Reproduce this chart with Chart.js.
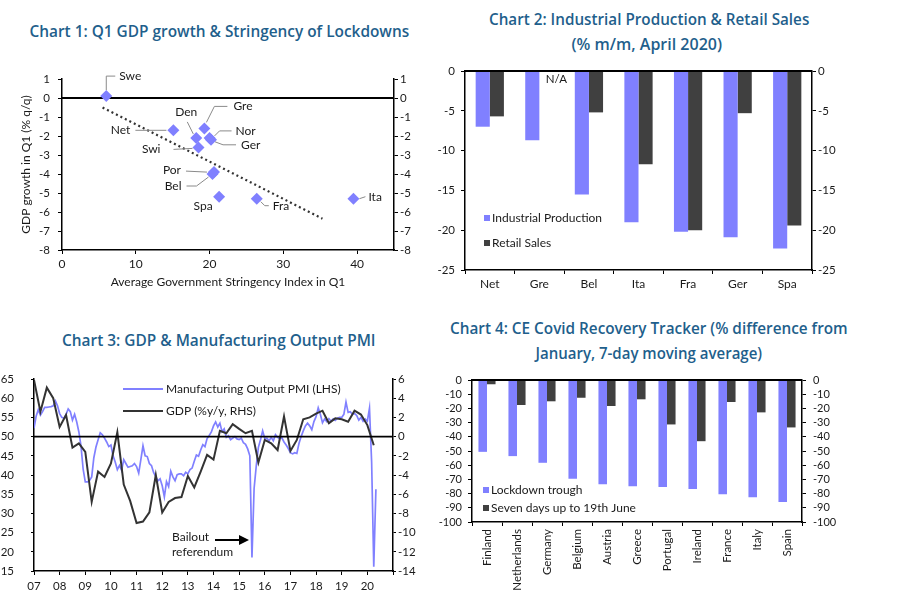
<!DOCTYPE html>
<html><head><meta charset="utf-8"><title>Greece charts</title>
<script src="https://cdn.jsdelivr.net/npm/chart.js@4.4.1/dist/chart.umd.min.js"></script>
<style>
html,body{margin:0;padding:0;background:#fff;}
body{width:901px;height:603px;position:relative;overflow:hidden;}
canvas{position:absolute;}
.t{position:absolute;white-space:nowrap;color:#1f5f8c;font-family:"Open Sans",sans-serif;font-weight:600;font-size:16px;line-height:20px;transform-origin:center center;}
</style></head>
<body>
<div class="t" data-cx="219" data-cy="31" data-w="380">Chart 1: Q1 GDP growth &amp; Stringency of Lockdowns</div>
<div class="t" data-cx="649" data-cy="19" data-w="320">Chart 2: Industrial Production &amp; Retail Sales</div>
<div class="t" data-cx="647" data-cy="44" data-w="151">(% m/m, April 2020)</div>
<div class="t" data-cx="219" data-cy="340" data-w="314">Chart 3: GDP &amp; Manufacturing Output PMI</div>
<div class="t" data-cx="649" data-cy="328" data-w="398">Chart 4: CE Covid Recovery Tracker (% difference from</div>
<div class="t" data-cx="649" data-cy="353" data-w="227">January, 7-day moving average)</div>
<canvas id="c1" width="450" height="240" style="left:0px;top:60px"></canvas>
<canvas id="c2" width="471" height="240" style="left:430px;top:60px"></canvas>
<canvas id="c3" width="450" height="233" style="left:0px;top:370px"></canvas>
<canvas id="c4" width="471" height="233" style="left:430px;top:370px"></canvas>
<script>
// ---------- DATA ----------
// Chart 1
const c1Countries = ['Swe','Net','Gre','Den','Nor','Ger','Swi','Por','Bel','Spa','Fra','Ita'];
const c1Stringency = [6.0, 15.1, 19.3, 18.2, 20.0, 20.2, 18.5, 20.6, 20.4, 21.3, 26.4, 39.5];
const c1GdpQ1 = [0.1, -1.7, -1.6, -2.1, -2.1, -2.2, -2.6, -3.9, -4.0, -5.2, -5.3, -5.3];
const c1TrendX = [5.5, 35.3];
const c1TrendY = [-0.5, -6.35];
const c1XTickValues = [0, 10, 20, 30, 40];

// Chart 2
const c2Categories = ['Net','Gre','Bel','Ita','Fra','Ger','Spa'];
const c2Industrial = [-7.0, -8.7, -15.5, -19.0, -20.2, -20.9, -22.3];
const c2Retail = [-5.7, null, -5.2, -11.7, -20.0, -5.3, -19.4];

// Chart 3 (PMI monthly from Jan 2007; GDP quarterly, first obs at start of 2007)
const c3PmiStartYear = 2007;
const c3Pmi = [
 52.2,55.3,57.0,55.6,56.5,57.6,57.6,57.7,57.8,58.0,59.3,58.0,
 56.0,55.0,54.8,55.8,57.2,56.5,54.3,55.8,53.8,51.2,47.5,41.5,
 38.2,38.2,38.6,39.5,44.5,47.3,49.2,51.0,50.5,49.6,48.6,47.4,
 47.8,45.0,43.4,41.4,42.5,41.2,44.0,43.0,42.0,42.2,42.4,43.0,
 42.2,40.5,44.0,47.6,45.0,44.8,43.0,42.4,40.6,39.6,38.5,39.0,
 37.2,34.3,38.3,37.0,41.0,39.5,38.5,40.1,40.3,40.3,39.8,40.7,
 40.3,41.4,41.8,43.6,45.2,44.9,46.5,47.9,47.4,49.5,50.3,51.2,
 52.8,53.8,52.5,53.5,51.3,52.0,49.8,50.2,49.2,49.6,50.0,49.4,
 49.2,49.6,48.4,48.0,46.8,45.0,18.5,36.5,42.3,47.2,49.2,51.5,
 49.5,49.6,48.9,49.8,48.9,50.5,49.8,49.5,49.7,48.6,47.8,46.9,
 45.8,45.5,45.8,45.6,48.2,50.0,51.5,52.8,53.5,52.8,51.8,53.9,
 55.2,57.5,55.8,53.6,54.6,53.9,54.7,54.0,54.6,54.2,54.8,55.0,
 55.0,55.8,59.0,56.3,56.5,55.8,56.0,55.5,54.3,55.0,54.0,54.6,
 54.0,57.4,43.4,16.1,36.3];
const c3GdpStartYear = 2007;
const c3Gdp = [5.9,2.6,5.1,4.0,1.0,2.25,-1.15,-0.7,-1.6,-6.8,
 -3.65,-4.2,-2.8,0.45,-5.0,-6.7,-9.0,-8.85,-7.9,-4.0,
 -7.9,-6.8,-6.4,-6.3,-4.1,-5.3,-3.65,-1.9,-2.4,0.6,
 0.35,1.3,0.8,0.35,0.6,-2.7,-0.35,-0.7,-1.4,2.1,
 -1.5,-0.35,1.8,2.0,2.4,2.7,1.4,1.9,1.8,1.55,
 2.7,2.3,1.2,-0.9];
const c3YearLabels = ['07','08','09','10','11','12','13','14','15','16','17','18','19','20'];

// Chart 4
const c4Categories = ['Finland','Netherlands','Germany','Belgium','Austria','Greece','Portugal','Ireland','France','Italy','Spain'];
const c4Trough = [-50.6, -53.6, -58.3, -69.6, -73.4, -74.8, -75.3, -76.7, -80.5, -82.6, -85.9];
const c4Recent = [-3.0, -17.6, -15.0, -12.5, -18.3, -13.6, -31.3, -43.1, -15.5, -22.8, -33.4];

// ---------- STYLE ----------
const FONT = 'Lato, "DejaVu Sans", sans-serif';
const TXT = '#1a1a1a';
const BLUE = '#8080ff';
const DARK = '#404040';

// titles: fit to reference widths
document.querySelectorAll('.t').forEach(el => {
  const cx = +el.dataset.cx, cy = +el.dataset.cy, w = +el.dataset.w;
  const nw = el.offsetWidth, nh = el.offsetHeight;
  el.style.left = (cx - nw / 2) + 'px';
  el.style.top = (cy - nh / 2) + 'px';
  el.style.transform = 'scaleX(' + (w / nw) + ')';
});

function linAxis(position, min, max, step, width, tickLen, pad, size, extra) {
  return Object.assign({
    type: 'linear', position, min, max,
    ticks: { stepSize: step, autoSkip: false, font: { family: FONT, size }, color: TXT, padding: pad },
    grid: { drawOnChartArea: false, drawTicks: true, tickLength: tickLen, tickColor: '#000', tickWidth: 1 },
    border: { display: true, color: '#000', width: 1.5 },
    afterFit: s => { s.width = width; s.paddingTop = 0; s.paddingBottom = 0; }
  }, extra || {});
}

const zeroLine = {
  id: 'zeroLine',
  beforeDatasetsDraw(chart, a, o) { if (o.order === 'before') drawZero(chart, o); },
  afterDatasetsDraw(chart, a, o) { if (o.order !== 'before') drawZero(chart, o); }
};
function drawZero(chart, o) {
  const y = chart.scales[o.axis || 'y'].getPixelForValue(0);
  const { left, right } = chart.chartArea;
  const ctx = chart.ctx;
  ctx.save(); ctx.strokeStyle = '#000'; ctx.lineWidth = o.width || 1.5;
  ctx.beginPath(); ctx.moveTo(left, y); ctx.lineTo(right, y); ctx.stroke(); ctx.restore();
}

const boxLegend = {
  id: 'boxLegend',
  afterDraw(chart, a, o) {
    const ctx = chart.ctx, { left, top } = chart.chartArea;
    ctx.save();
    ctx.font = o.size + 'px ' + FONT; ctx.textBaseline = 'middle'; ctx.textAlign = 'left';
    chart.data.datasets.forEach((ds, i) => {
      const y = top + o.dy + i * o.gap;
      ctx.fillStyle = ds.backgroundColor;
      ctx.fillRect(left + o.dx, y - o.box / 2, o.box, o.box);
      ctx.fillStyle = TXT;
      ctx.fillText(ds.label, left + o.dx + o.box + o.textGap, y);
    });
    ctx.restore();
  }
};

const baseOpts = {
  responsive: false, animation: false, devicePixelRatio: 1,
  plugins: { legend: { display: false }, tooltip: { enabled: false } }
};

// ---------- CHART 1 ----------
const c1Layout = {
  Swe: { dx: 13, dy: -20, align: 'left', lead: [[0, -6], [0, -20], [9, -20]] },
  Net: { dx: -43, dy: 0, align: 'right', lead: [[-7, 0], [-38, 0]] },
  Gre: { dx: 29, dy: -22, align: 'left', lead: [[2, -6], [10, -22], [23, -22]] },
  Den: { dx: -10, dy: -26, align: 'center', lead: [[-3, -4], [-9, -16]] },
  Nor: { dx: 26, dy: -7, align: 'left', lead: [[5, -2], [10, -7], [22, -7]] },
  Ger: { dx: 30, dy: 5, align: 'left', lead: [[4, 2], [12, 5], [25, 5]] },
  Swi: { dx: -38, dy: 2, align: 'right', lead: [[-6, 1], [-25, 2]] },
  Por: { dx: -33, dy: -2, align: 'right', lead: [[-7, 0], [-28, -1]] },
  Bel: { dx: -31, dy: 12, align: 'right', lead: [[-4, 3], [-16, 12], [-26, 12]] },
  Spa: { dx: -16, dy: 9, align: 'center', lead: null },
  Fra: { dx: 16, dy: 7, align: 'left', lead: [[4, 3], [8, 7], [12, 7]] },
  Ita: { dx: 15, dy: -2, align: 'left', lead: [[6, 0], [12, -2]] }
};
const pointLabels = {
  id: 'pointLabels',
  afterDatasetsDraw(chart) {
    const ctx = chart.ctx, meta = chart.getDatasetMeta(0);
    ctx.save();
    ctx.font = '12px ' + FONT; ctx.textBaseline = 'middle'; ctx.fillStyle = TXT;
    meta.data.forEach((pt, i) => {
      const name = c1Countries[i], L = c1Layout[name];
      if (!L) return;
      if (L.lead) {
        ctx.strokeStyle = '#8a8a8a'; ctx.lineWidth = 1;
        ctx.beginPath();
        L.lead.forEach(([dx, dy], k) => k ? ctx.lineTo(pt.x + dx, pt.y + dy) : ctx.moveTo(pt.x + dx, pt.y + dy));
        ctx.stroke();
      }
      ctx.textAlign = L.align;
      ctx.fillText(name, pt.x + L.dx, pt.y + L.dy);
    });
    ctx.restore();
  }
};
new Chart(document.getElementById('c1'), {
  type: 'scatter',
  data: {
    datasets: [
      { data: c1Stringency.map((x, i) => ({ x, y: c1GdpQ1[i] })), pointStyle: 'rectRot', pointRadius: 6,
        backgroundColor: BLUE, borderColor: BLUE, borderWidth: 0, order: 1 },
      { type: 'line', data: c1TrendX.map((x, i) => ({ x, y: c1TrendY[i] })), borderColor: '#333',
        borderWidth: 2.2, borderDash: [2, 3], pointRadius: 0, fill: false, order: 2 }
    ]
  },
  options: Object.assign({}, baseOpts, {
    layout: { padding: { top: 19, left: 0, right: 0, bottom: 0 } },
    plugins: Object.assign({}, baseOpts.plugins, { zeroLine: { order: 'before', width: 2 } }),
    scales: {
      x: { type: 'linear', position: 'bottom', min: 0, max: 45,
        afterBuildTicks: s => { s.ticks = c1XTickValues.map(v => ({ value: v })); },
        ticks: { font: { family: FONT, size: 12 }, color: TXT, padding: 3 },
        grid: { drawOnChartArea: false, tickLength: 4, tickColor: '#000' },
        border: { color: '#000', width: 1.5 },
        title: { display: true, text: 'Average Government Stringency Index in Q1', font: { family: FONT, size: 12 }, color: TXT, padding: { top: 0, bottom: 11 } },
        afterFit: s => { s.height = 50; } },
      y: linAxis('left', -8, 1, 1, 62, 4, 8, 11.5, {
        title: { display: true, text: 'GDP growth in Q1 (% q/q)', font: { family: FONT, size: 12 }, color: TXT, padding: { top: 19, bottom: 0 } } }),
      y2: linAxis('right', -8, 1, 1, 56, 4, 2, 11.5)
    }
  }),
  plugins: [zeroLine, pointLabels]
});

// ---------- CHART 2 ----------
const naLabel = {
  id: 'naLabel',
  afterDatasetsDraw(chart) {
    const ctx = chart.ctx, xs = chart.scales.x, ys = chart.scales.y;
    c2Retail.forEach((v, i) => {
      if (v !== null) return;
      ctx.save(); ctx.font = '11.5px ' + FONT; ctx.fillStyle = TXT; ctx.textAlign = 'center'; ctx.textBaseline = 'middle';
      ctx.fillText('N/A', xs.getPixelForValue(i) + 17, ys.getPixelForValue(0) + 8);
      ctx.restore();
    });
  }
};
new Chart(document.getElementById('c2'), {
  type: 'bar',
  data: {
    labels: c2Categories,
    datasets: [
      { label: 'Industrial Production', data: c2Industrial, backgroundColor: BLUE, barPercentage: 1, categoryPercentage: 0.57 },
      { label: 'Retail Sales', data: c2Retail, backgroundColor: DARK, barPercentage: 1, categoryPercentage: 0.57 }
    ]
  },
  options: Object.assign({}, baseOpts, {
    layout: { padding: { top: 11, left: 0, right: 0, bottom: 0 } },
    plugins: Object.assign({}, baseOpts.plugins, {
      zeroLine: { order: 'after', width: 1.8 },
      boxLegend: { dx: 19, dy: 147, gap: 25, box: 6, textGap: 2, size: 12 }
    }),
    scales: {
      x: { type: 'category', position: 'bottom', offset: true,
        ticks: { font: { family: FONT, size: 12 }, color: TXT, padding: 3, autoSkip: false, maxRotation: 0 },
        grid: { drawOnChartArea: false, offset: true, tickLength: 4, tickColor: '#000' },
        border: { color: '#000', width: 1.5 },
        afterFit: s => { s.height = 30; } },
      y: linAxis('left', -25, 0, 5, 35, 4, 6, 11.5),
      y2: linAxis('right', -25, 0, 5, 89, 4, 2, 11.5)
    }
  }),
  plugins: [zeroLine, boxLegend, naLabel]
});

// ---------- CHART 3 ----------
const c3Notes = {
  id: 'c3Notes',
  afterDraw(chart) {
    const ctx = chart.ctx, { left, top } = chart.chartArea;
    ctx.save();
    ctx.font = '12px ' + FONT; ctx.textBaseline = 'middle'; ctx.textAlign = 'left'; ctx.fillStyle = TXT;
    const items = [
      { text: 'Manufacturing Output PMI (LHS)', color: BLUE, w: 1.8 },
      { text: 'GDP (%y/y, RHS)', color: '#333', w: 2 }
    ];
    items.forEach((it, i) => {
      const y = top + 10 + i * 22;
      ctx.strokeStyle = it.color; ctx.lineWidth = it.w;
      ctx.beginPath(); ctx.moveTo(left + 89, y); ctx.lineTo(left + 129, y); ctx.stroke();
      ctx.fillText(it.text, left + 132, y);
    });
    ctx.fillText('Bailout', left + 138, top + 158);
    ctx.fillText('referendum', left + 138, top + 173);
    const ay = top + 161;
    ctx.strokeStyle = '#000'; ctx.lineWidth = 2;
    ctx.beginPath(); ctx.moveTo(left + 181, ay); ctx.lineTo(left + 207, ay); ctx.stroke();
    ctx.fillStyle = '#000';
    ctx.beginPath(); ctx.moveTo(left + 215, ay); ctx.lineTo(left + 205, ay - 5); ctx.lineTo(left + 205, ay + 5); ctx.closePath(); ctx.fill();
    ctx.restore();
  }
};
new Chart(document.getElementById('c3'), {
  type: 'line',
  data: {
    datasets: [
      { data: c3Pmi.map((v, m) => ({ x: c3PmiStartYear + m / 12, y: v })), borderColor: BLUE, borderWidth: 1.7,
        pointRadius: 0, yAxisID: 'y', tension: 0, order: 2 },
      { data: c3Gdp.map((v, q) => ({ x: c3GdpStartYear + q / 4, y: v })), borderColor: '#333', borderWidth: 2,
        pointRadius: 0, yAxisID: 'y2', tension: 0, order: 1 }
    ]
  },
  options: Object.assign({}, baseOpts, {
    layout: { padding: { top: 9, left: 0, right: 0, bottom: 0 } },
    plugins: Object.assign({}, baseOpts.plugins, { zeroLine: { order: 'after', axis: 'y2', width: 1.8 } }),
    scales: {
      x: { type: 'linear', position: 'bottom', min: 2007, max: 2021,
        afterBuildTicks: s => { s.ticks = c3YearLabels.map((l, i) => ({ value: 2007 + i })).concat([{ value: 2021 }]); },
        ticks: { font: { family: FONT, size: 11.5 }, color: TXT, padding: 4, autoSkip: false, maxRotation: 0,
          callback: (v) => c3YearLabels[Math.round(v) - 2007] || '' },
        grid: { drawOnChartArea: false, tickLength: 4, tickColor: '#000' },
        border: { color: '#000', width: 1.5 },
        afterFit: s => { s.height = 32; } },
      y: linAxis('left', 15, 65, 5, 34, 3, 17, 11.5),
      y2: linAxis('right', -14, 6, 2, 57, 3, 2, 11.5)
    }
  }),
  plugins: [zeroLine, c3Notes]
});

// ---------- CHART 4 ----------
new Chart(document.getElementById('c4'), {
  type: 'bar',
  data: {
    labels: c4Categories,
    datasets: [
      { label: 'Lockdown trough', data: c4Trough, backgroundColor: BLUE, barPercentage: 1, categoryPercentage: 0.57 },
      { label: 'Seven days up to 19th June', data: c4Recent, backgroundColor: DARK, barPercentage: 1, categoryPercentage: 0.57 }
    ]
  },
  options: Object.assign({}, baseOpts, {
    layout: { padding: { top: 10, left: 0, right: 0, bottom: 0 } },
    plugins: Object.assign({}, baseOpts.plugins, {
      zeroLine: { order: 'after', width: 1.8 },
      boxLegend: { dx: 11, dy: 110, gap: 18, box: 6, textGap: 2, size: 12 }
    }),
    scales: {
      x: { type: 'category', position: 'bottom', offset: true,
        ticks: { font: { family: FONT, size: 11.5 }, color: TXT, padding: 3, autoSkip: false, minRotation: 90, maxRotation: 90 },
        grid: { drawOnChartArea: false, offset: true, tickLength: 4, tickColor: '#000' },
        border: { color: '#000', width: 1.5 },
        afterFit: s => { s.height = 81; } },
      y: linAxis('left', -100, 0, 10, 42, 4, 6, 11),
      y2: linAxis('right', -100, 0, 10, 99, 4, 7, 11)
    }
  }),
  plugins: [zeroLine, boxLegend]
});
</script>
</body></html>
